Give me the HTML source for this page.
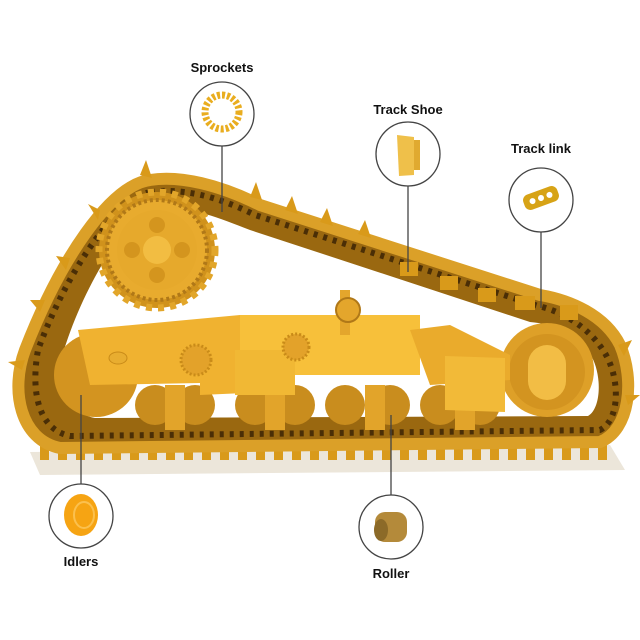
<!DOCTYPE html>
<html><head><meta charset="utf-8"><style>
html,body{margin:0;padding:0;background:#fff;width:640px;height:640px;overflow:hidden}
svg{display:block}
text{font-family:"Liberation Sans",Arial,sans-serif;font-weight:bold;font-size:13px;fill:#111}
</style></head><body>
<svg width="640" height="640" viewBox="0 0 640 640" xmlns="http://www.w3.org/2000/svg">
<defs>
<pattern id="teeth" width="18" height="14" patternUnits="userSpaceOnUse">
<rect x="4" y="0" width="9" height="14" fill="#d99a1a"/>
</pattern>
</defs>
<polygon points="30,452 610,445 625,470 40,475" fill="#ece6da"/>
<rect x="40" y="440" width="570" height="20" fill="url(#teeth)"/>
<path d="M150,180 C110,185 60,260 25,350 C10,390 20,440 60,448 L600,442 C630,430 635,380 620,345 C605,315 570,300 540,295 L260,205 C220,185 180,175 150,180 Z" fill="#9a6810" stroke="#dba028" stroke-width="12"/>
<path d="M150,210 C120,225 82,292 64,350 C60,392 72,414 95,418 L588,416 C602,408 602,372 590,354 C575,334 555,324 530,322 L250,230 C210,214 175,202 150,210 Z" fill="#fff"/>
<path d="M150,192 C115,200 65,275 38,350 C30,395 40,430 70,436 L600,430 C620,420 620,380 606,355 C592,330 565,312 538,306 L255,215 C215,195 180,188 150,192 Z" fill="none" stroke="#4a2e06" stroke-width="6" stroke-dasharray="4 6"/>
<g fill="#d99a1a">
<polygon points="250,197 256,182 262,200"/><polygon points="285,210 292,196 298,214"/><polygon points="320,222 327,208 333,226"/>
<polygon points="358,234 365,220 371,238"/><polygon points="400,262 418,262 418,276 400,276"/><polygon points="440,276 458,276 458,290 440,290"/>
<polygon points="478,288 496,288 496,302 478,302"/><polygon points="515,296 535,296 535,310 515,310"/><polygon points="560,305 578,305 578,320 560,320"/>
<polygon points="140,175 146,160 152,178"/><polygon points="100,210 88,204 98,220"/><polygon points="70,258 56,256 66,270"/><polygon points="45,300 30,300 40,312"/><polygon points="25,360 8,362 22,370"/>
<polygon points="618,345 632,340 624,356"/><polygon points="625,395 640,395 628,405"/>
</g>
<circle cx="547" cy="370" r="47" fill="#dea028"/>
<circle cx="547" cy="372" r="38" fill="#d39420"/>
<rect x="528" y="345" width="38" height="55" rx="19" fill="#f2bd45"/>
<circle cx="96" cy="375" r="42" fill="#d39420"/>
<g fill="#c98d1e">
<circle cx="155" cy="405" r="20"/><circle cx="195" cy="405" r="20"/><circle cx="255" cy="405" r="20"/><circle cx="295" cy="405" r="20"/>
<circle cx="345" cy="405" r="20"/><circle cx="390" cy="405" r="20"/><circle cx="440" cy="405" r="20"/><circle cx="480" cy="405" r="20"/>
</g>
<g fill="#e2a42a">
<rect x="165" y="385" width="20" height="45"/><rect x="265" y="385" width="20" height="45"/><rect x="365" y="385" width="20" height="45"/><rect x="455" y="385" width="20" height="45"/>
</g>
<polygon points="78,330 240,315 245,393 200,395 200,383 90,385" fill="#f0b230"/>
<rect x="240" y="315" width="180" height="60" fill="#f7c03a"/>
<rect x="235" y="350" width="60" height="45" fill="#f1b834"/>
<polygon points="410,330 450,325 510,355 510,380 430,385" fill="#eaab2c"/>
<polygon points="445,356 505,358 505,412 445,410" fill="#f2ba38"/>
<circle cx="196" cy="360" r="15" fill="#e3a22a" stroke="#c98b18" stroke-width="3" stroke-dasharray="2 2"/>
<circle cx="296" cy="347" r="13" fill="#e3a22a" stroke="#c98b18" stroke-width="3" stroke-dasharray="2 2"/>
<ellipse cx="118" cy="358" rx="9" ry="6" fill="#e8ad30" stroke="#c98b18"/>
<rect x="340" y="290" width="10" height="45" fill="#e4a62c"/>
<circle cx="348" cy="310" r="12" fill="#e4a62c" stroke="#b07818" stroke-width="2"/>
<circle cx="157" cy="250" r="58" fill="#d0921c" stroke="#e2a62a" stroke-width="7" stroke-dasharray="6 6"/>
<circle cx="157" cy="250" r="50" fill="#e8ab2e" stroke="#b07818" stroke-width="4" stroke-dasharray="3 3"/>
<circle cx="157" cy="250" r="40" fill="#e6a92c"/>
<g fill="#d4951e"><circle cx="157" cy="225" r="8"/><circle cx="157" cy="275" r="8"/><circle cx="132" cy="250" r="8"/><circle cx="182" cy="250" r="8"/></g>
<circle cx="157" cy="250" r="14" fill="#f2bd42"/>
<g stroke="#444" stroke-width="1.3" fill="none">
<line x1="222" y1="146" x2="222" y2="212"/>
<line x1="408" y1="186" x2="408" y2="272"/>
<line x1="541" y1="232" x2="541" y2="308"/>
<line x1="81" y1="484" x2="81" y2="395"/>
<line x1="391" y1="495" x2="391" y2="415"/>
<circle cx="222" cy="114" r="32" fill="#fff"/>
<circle cx="408" cy="154" r="32" fill="#fff"/>
<circle cx="541" cy="200" r="32" fill="#fff"/>
<circle cx="81" cy="516" r="32" fill="#fff"/>
<circle cx="391" cy="527" r="32" fill="#fff"/>
</g>
<circle cx="222" cy="112" r="17" fill="none" stroke="#e9ad1f" stroke-width="7" stroke-dasharray="3 2"/>
<polygon points="397,135 414,137 414,175 399,176" fill="#efc04a"/>
<rect x="414" y="140" width="6" height="30" fill="#e0aa30"/>
<g transform="rotate(-20 541 198)"><rect x="523" y="190" width="36" height="16" rx="6" fill="#d7a316"/>
<circle cx="532" cy="198" r="3" fill="#fff"/><circle cx="541" cy="198" r="3" fill="#fff"/><circle cx="550" cy="198" r="3" fill="#fff"/></g>
<ellipse cx="81" cy="515" rx="17" ry="21" fill="#f6a413"/>
<ellipse cx="84" cy="515" rx="10" ry="13" fill="none" stroke="#fbc04e" stroke-width="2"/>
<rect x="375" y="512" width="32" height="30" rx="10" fill="#b48a3a"/>
<ellipse cx="381" cy="530" rx="7" ry="11" fill="#8c6a28"/>
<text x="222" y="72" text-anchor="middle">Sprockets</text>
<text x="408" y="114" text-anchor="middle">Track Shoe</text>
<text x="541" y="153" text-anchor="middle">Track link</text>
<text x="81" y="566" text-anchor="middle">Idlers</text>
<text x="391" y="578" text-anchor="middle">Roller</text>
</svg>
</body></html>
